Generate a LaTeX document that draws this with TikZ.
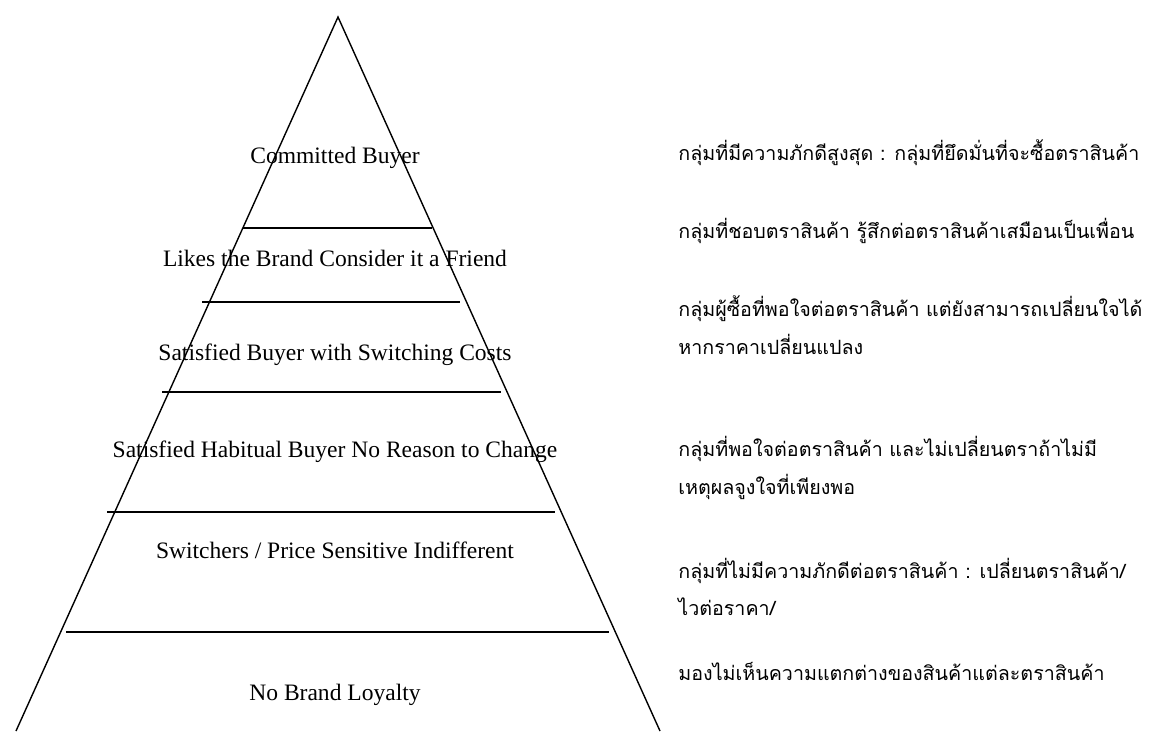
\documentclass[tikz,border=0pt]{standalone}
\usepackage{fontspec}
\setmainfont{Liberation Serif}
\newfontfamily\thaifont[Script=Thai]{Loma}
\usetikzlibrary{calc}

\tikzset{
  level/.style={font=\fontsize{13.4}{16}\selectfont},
  note/.style={anchor=west, inner sep=0pt, font=\thaifont\fontsize{11.2}{21.5}\selectfont, align=left},
  edge/.style={black, line width=0.8pt},
  bar/.style={black, line width=1.1pt}
}

\begin{document}
\begin{tikzpicture}[x=0.02cm, y=-0.02cm]

\useasboundingbox (0,0) rectangle (1153,731);

\coordinate (T) at (338,17);
\coordinate (L) at (16,731);
\coordinate (R) at (660,731);

\draw[edge] (L)--(T)--(R);

% bars between the levels
\draw[bar] (243,228)--(432,228);
\draw[bar] (202,302)--(460,302);
\draw[bar] (162,392)--(501,392);
\draw[bar] (107,512)--(555,512);
\draw[bar] (66,632)--(609,632);

% levels
\node[level] (committed) at (335,158) {Committed Buyer};
\node[level] (likes) at (335,258) {Likes the Brand Consider it a Friend};
\node[level] (costs) at (335,355) {Satisfied Buyer with Switching Costs};
\node[level] (habit) at (335,452) {Satisfied Habitual Buyer No Reason to Change};
\node[level] (switch) at (335,550) {Switchers / Price Sensitive Indifferent};
\node[level] (noloyal) at (335,695) {No Brand Loyalty};

% notes
\node[note] (n1) at (678,153) {กลุ่มที่มีความภักดีสูงสุด : กลุ่มที่ยึดมั่นที่จะซื้อตราสินค้า};
\node[note] (n2) at (678,231) {กลุ่มที่ชอบตราสินค้า รู้สึกต่อตราสินค้าเสมือนเป็นเพื่อน};
\node[note] (n3) at (678,325) {กลุ่มผู้ซื้อที่พอใจต่อตราสินค้า แต่ยังสามารถเปลี่ยนใจได้\\หากราคาเปลี่ยนแปลง};
\node[note] (n4) at (678,468) {กลุ่มที่พอใจต่อตราสินค้า และไม่เปลี่ยนตราถ้าไม่มี\\เหตุผลจูงใจที่เพียงพอ};
\node[note] (n5) at (678,587) {กลุ่มที่ไม่มีความภักดีต่อตราสินค้า : เปลี่ยนตราสินค้า/\\ไวต่อราคา/};
\node[note] (n6) at (678,671) {มองไม่เห็นความแตกต่างของสินค้าแต่ละตราสินค้า};

\end{tikzpicture}
\end{document}
